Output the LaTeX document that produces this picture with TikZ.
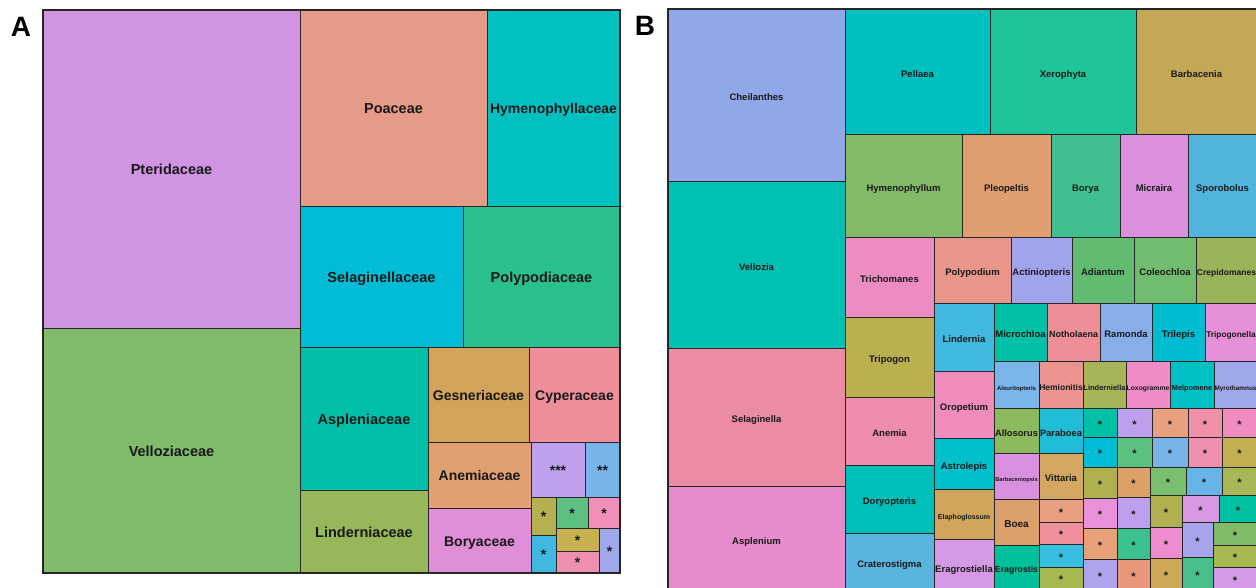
\documentclass[tikz,border=0pt]{standalone}
\usepackage{fontspec}
\setmainfont{Liberation Sans}
\tikzset{
  cellbox/.style={draw=black!85,line width=0.8pt,inner sep=0pt,outer sep=0pt,rectangle},
  celltext/.style={inner sep=0pt,text=black!90,text height=.72em,text depth=0em,yshift=-.2em},
  panellabel/.style={font=\bfseries\fontsize{28}{28}\selectfont,inner sep=0pt}
}
\newcommand\tcell[8]{%
  \definecolor{col#1}{HTML}{#6}%
  \pgfmathsetmacro\cw{#4-#2}\pgfmathsetmacro\ch{#5-#3}%
  \pgfmathsetmacro\cx{(#2+#4)/2}\pgfmathsetmacro\cy{(#3+#5)/2}%
  \node[cellbox,fill=col#1,minimum width=\cw pt,minimum height=\ch pt,
        label={[celltext,font=\bfseries\fontsize{#7}{#7}\selectfont]center:{#8}}] (#1) at (\cx,\cy) {};}
\newcommand\scell[6]{\tcell{#1}{#2}{#3}{#4}{#5}{#6}{11}{*}}
\newcommand\acell[6]{\tcell{#1}{#2}{#3}{#4}{#5}{#6}{14}{*}}
\begin{document}
\begin{tikzpicture}[x=1pt,y=-1pt]
\useasboundingbox (0,0) rectangle (1256,587);
\fill[white] (0,0) rectangle (1256,587);
\begin{scope}
\clip (0,0) rectangle (1256,587);
% ---------- Panel A ----------
\tcell{pter}{43}{10}{300}{328}{D094E0}{14.5}{Pteridaceae}
\tcell{vell}{43}{328}{300}{573}{7FBB6A}{14.5}{Velloziaceae}
\tcell{poac}{300}{10}{487}{206}{E69A88}{14.5}{Poaceae}
\tcell{hyme}{487}{10}{620}{206}{00C0C0}{14}{Hymenophyllaceae}
\tcell{sela}{300}{206}{463}{347}{00BCD4}{14.5}{Selaginellaceae}
\tcell{poly}{463}{206}{620}{347}{2AC08E}{14.5}{Polypodiaceae}
\tcell{aspl}{300}{347}{428}{490}{00BFA8}{14.5}{Aspleniaceae}
\tcell{lind}{300}{490}{428}{573}{96B85A}{14.5}{Linderniaceae}
\tcell{gesn}{428}{347}{529}{442}{D2A35A}{14}{Gesneriaceae}
\tcell{cype}{529}{347}{620}{442}{EE8E9A}{14}{Cyperaceae}
\tcell{anem}{428}{442}{531}{508}{E0A070}{14}{Anemiaceae}
\tcell{bory}{428}{508}{531}{573}{E08ED8}{14}{Boryaceae}
\tcell{sthree}{531}{442}{585}{497}{BFA0EC}{14}{***}
\tcell{stwo}{585}{442}{620}{497}{78B4EA}{14}{**}
\acell{saa}{531}{497}{556}{535}{B5B050}
\acell{sab}{556}{497}{588}{528}{5CC080}
\acell{sac}{588}{497}{620}{528}{F090B8}
\acell{sad}{531}{535}{556}{573}{40B8E0}
\acell{sae}{556}{528}{599}{551}{C8B050}
\acell{saf}{556}{551}{599}{573}{F090B0}
\acell{sag}{599}{528}{620}{573}{A0A8EC}
\draw[draw=black!85,line width=1.4pt] (pter.north west) rectangle (sag.south east);
% ---------- Panel B ----------
\tcell{chei}{668}{9}{845}{181}{90A8EA}{9.5}{Cheilanthes}
\tcell{vellz}{668}{181}{845}{348}{00C0B4}{9.5}{Vellozia}
\tcell{selg}{668}{348}{845}{486}{EC8CA4}{9.5}{Selaginella}
\tcell{aspln}{668}{486}{845}{592}{E68CCC}{9.5}{Asplenium}
\tcell{pell}{845}{9}{990}{134}{00BFBF}{9.5}{Pellaea}
\tcell{xero}{990}{9}{1136}{134}{20C49A}{9.5}{Xerophyta}
\tcell{barb}{1136}{9}{1257}{134}{C4A858}{9.5}{Barbacenia}
\tcell{hymm}{845}{134}{962}{237}{82BA6A}{9.5}{Hymenophyllum}
\tcell{pleo}{962}{134}{1051}{237}{DE9E70}{9.5}{Pleopeltis}
\tcell{boryb}{1051}{134}{1120}{237}{40C090}{9.5}{Borya}
\tcell{micr}{1120}{134}{1188}{237}{DA90DC}{9.5}{Micraira}
\tcell{spor}{1188}{134}{1257}{237}{50B4DC}{9.5}{Sporobolus}
\tcell{tric}{845}{237}{934}{317}{EC8CC0}{9.5}{Trichomanes}
\tcell{trip}{845}{317}{934}{397}{BAB050}{9.5}{Tripogon}
\tcell{anemb}{845}{397}{934}{465}{EE8CB0}{9.5}{Anemia}
\tcell{dory}{845}{465}{934}{533}{00BFB8}{9.5}{Doryopteris}
\tcell{crat}{845}{533}{934}{591}{5AB4E0}{9.5}{Craterostigma}
\tcell{polyp}{934}{237}{1011}{303}{E8968A}{9.5}{Polypodium}
\tcell{acti}{1011}{237}{1072}{303}{A0A4EC}{9.5}{Actiniopteris}
\tcell{adia}{1072}{237}{1134}{303}{62BC70}{9.5}{Adiantum}
\tcell{cole}{1134}{237}{1196}{303}{72BC70}{9.5}{Coleochloa}
\tcell{crep}{1196}{237}{1257}{303}{9AB45A}{8.5}{Crepidomanes}
\tcell{lindb}{934}{303}{994}{371}{40B8E0}{9.5}{Lindernia}
\tcell{orop}{934}{371}{994}{438}{F08CBC}{9.5}{Oropetium}
\tcell{astr}{934}{438}{994}{489}{00C0CC}{9.5}{Astrolepis}
\tcell{elap}{934}{489}{994}{539}{D0A45A}{7}{Elaphoglossum}
\tcell{erag}{934}{539}{994}{595}{D69AE4}{9.5}{Eragrostiella}
\tcell{micro}{994}{303}{1047}{361}{00C0A8}{9.5}{Microchloa}
\tcell{noth}{1047}{303}{1100}{361}{EE8E98}{9}{Notholaena}
\tcell{ramo}{1100}{303}{1152}{361}{88AEEA}{9.5}{Ramonda}
\tcell{tril}{1152}{303}{1205}{361}{00BCD0}{9.5}{Trilepis}
\tcell{trig}{1205}{303}{1257}{361}{E690D8}{8.3}{Tripogonella}
\tcell{aleu}{994}{361}{1039}{408}{7CB4EC}{6}{Aleuritopteris}
\tcell{hemi}{1039}{361}{1083}{408}{EC9490}{8.5}{Hemionitis}
\tcell{lindl}{1083}{361}{1126}{408}{A8B45A}{7.5}{Linderniella}
\tcell{loxo}{1126}{361}{1170}{408}{EE8CC8}{6.8}{Loxogramme}
\tcell{melp}{1170}{361}{1214}{408}{00C0C4}{7.3}{Melpomene}
\tcell{myro}{1214}{361}{1257}{408}{A0A8EC}{6.4}{Myrothamnus}
\tcell{allo}{994}{408}{1039}{453}{8EBA5E}{9.3}{Allosorus}
\tcell{para}{1039}{408}{1083}{453}{20BCD8}{9.3}{Paraboea}
\tcell{barbs}{994}{453}{1039}{499}{DA90E0}{5.7}{Barbaceniopsis}
\tcell{vitt}{1039}{453}{1083}{499}{D4A860}{9.5}{Vittaria}
\tcell{boea}{994}{499}{1039}{545}{DCA06C}{10}{Boea}
\tcell{eragr}{994}{545}{1039}{589}{00C09C}{8.7}{Eragrostis}
\scell{bsa}{1039}{499}{1083}{522}{E8A080}
\scell{bsb}{1039}{522}{1083}{544}{F0909C}
\scell{bsc}{1039}{544}{1083}{567}{38BEE0}
\scell{bsd}{1039}{567}{1083}{589}{A8B850}
% column 1
\scell{ga}{1083}{408}{1117}{437}{00C0A8}
\scell{gb}{1083}{437}{1117}{467}{00BCD4}
\scell{gc}{1083}{467}{1117}{498}{B0B050}
\scell{gd}{1083}{498}{1117}{528}{E890D8}
\scell{ge}{1083}{528}{1117}{559}{E8A078}
\scell{gf}{1083}{559}{1117}{590}{ACA4EC}
% column 2
\scell{gg}{1117}{408}{1152}{437}{BCA0EC}
\scell{gh}{1117}{437}{1152}{467}{5CC080}
\scell{gi}{1117}{467}{1150}{497}{DCA068}
\scell{gj}{1117}{497}{1150}{528}{BCA0EC}
\scell{gk}{1117}{528}{1150}{559}{3CC090}
\scell{gl}{1117}{559}{1150}{590}{E8967C}
% column 3
\scell{gm}{1152}{408}{1188}{437}{E8A080}
\scell{gn}{1152}{437}{1188}{467}{78B4EA}
\scell{go}{1150}{467}{1186}{495}{78C070}
\scell{gp}{1150}{495}{1182}{527}{B0B050}
\scell{gq}{1150}{527}{1182}{558}{EE8CD0}
\scell{gr}{1150}{558}{1182}{590}{CCA858}
% column 4
\scell{gs}{1188}{408}{1222}{437}{F090A8}
\scell{gt}{1188}{437}{1222}{467}{F090B0}
\scell{gu}{1186}{467}{1222}{495}{68B4E8}
\scell{gv}{1182}{495}{1219}{522}{D698E0}
\scell{gw}{1182}{522}{1213}{557}{A8A4EC}
\scell{gx}{1182}{557}{1213}{590}{48BE88}
% column 5
\scell{gy}{1222}{408}{1257}{437}{F08CC0}
\scell{gz}{1222}{437}{1257}{467}{C0B050}
\scell{gaa}{1222}{467}{1257}{495}{A8B858}
\scell{gab}{1219}{495}{1257}{522}{00C0A0}
\scell{gac}{1213}{522}{1257}{545}{80BC68}
\scell{gad}{1213}{545}{1257}{567}{A8B850}
\scell{gae}{1213}{567}{1257}{590}{D49AE4}
\draw[draw=black!85,line width=1.4pt] (chei.north west) rectangle (gae.south east);
\end{scope}
\node[panellabel] (labA) at (21,27) {A};
\node[panellabel] (labB) at (645,26) {B};
\end{tikzpicture}
\end{document}
